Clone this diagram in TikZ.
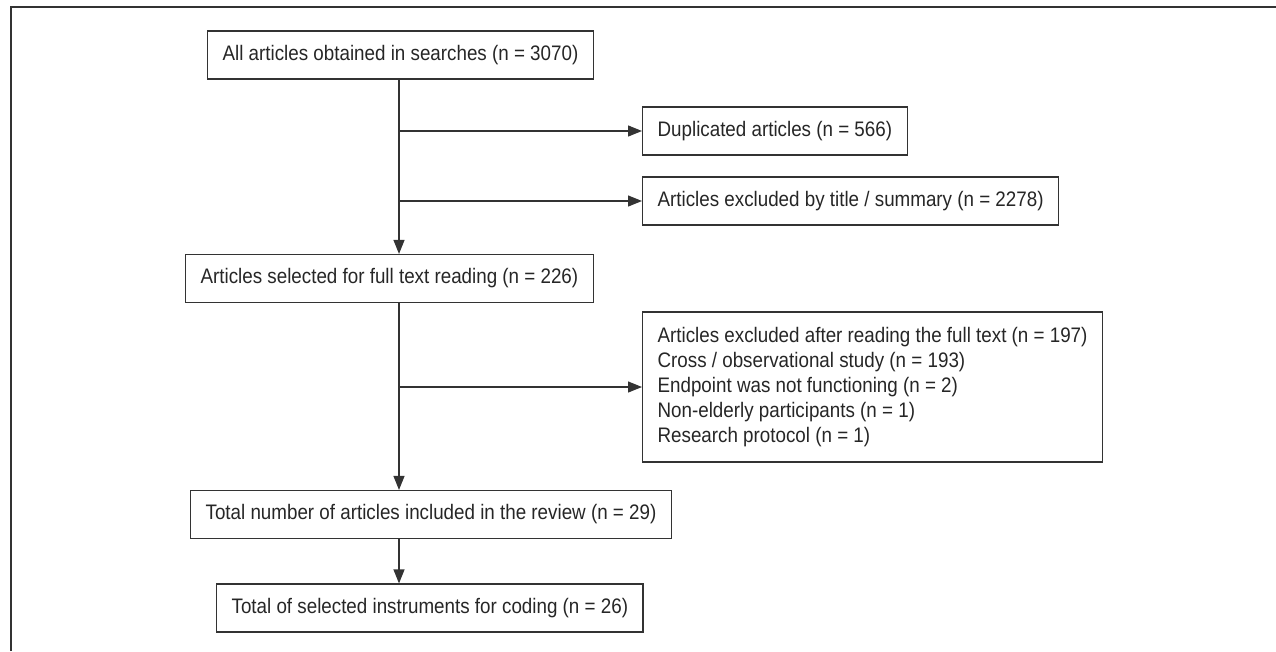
\documentclass[tikz,border=0pt]{standalone}
\usepackage{fontspec}
\setmainfont{Liberation Sans}[FakeStretch=0.895]
\usetikzlibrary{arrows.meta}
\begin{document}
\begin{tikzpicture}[x=1pt,y=-1pt,
  box/.style={draw=black!80, line width=1.2pt, anchor=west, minimum height=48pt,
    inner xsep=15pt, inner ysep=6pt, text=black!85,
    font=\fontsize{21}{25}\selectfont},
  arr/.style={draw=black!80, line width=1.2pt, -{Triangle[length=14pt,width=11pt]}},
  frame/.style={draw=black!80, line width=1.5pt}]
\useasboundingbox (0,0) rectangle (1276,651);
\coordinate (f1) at (11,651);
\coordinate (f2) at (11,7);
\coordinate (f3) at (1276,7);
\draw[frame] (f1) -- (f2) -- (f3);
\coordinate (sp) at (399,0);
\node[box] (all) at (207,55) {All articles obtained in searches (n = 3070)};
\node[box] (dup) at (642,131) {Duplicated articles (n = 566)};
\node[box] (excl) at (642,201) {Articles excluded by title / summary (n = 2278)};
\node[box] (sel) at (185,278.5) {Articles selected for full text reading (n = 226)};
\node[box, align=left, minimum height=150pt] (full) at (642,387) {Articles excluded after reading the full text (n = 197)\\
Cross / observational study (n = 193)\\
Endpoint was not functioning (n = 2)\\
Non-elderly participants (n = 1)\\
Research protocol (n = 1)};
\node[box] (tot) at (190,514.5) {Total number of articles included in the review (n = 29)};
\node[box] (inst) at (216,608) {Total of selected instruments for coding (n = 26)};
\draw[arr] (all.south -| sp) -- (sel.north -| sp);
\draw[arr] (dup.west -| sp) -- (dup.west);
\draw[arr] (excl.west -| sp) -- (excl.west);
\draw[arr] (sel.south -| sp) -- (tot.north -| sp);
\draw[arr] (full.west -| sp) -- (full.west);
\draw[arr] (tot.south -| sp) -- (inst.north -| sp);
\end{tikzpicture}
\end{document}
